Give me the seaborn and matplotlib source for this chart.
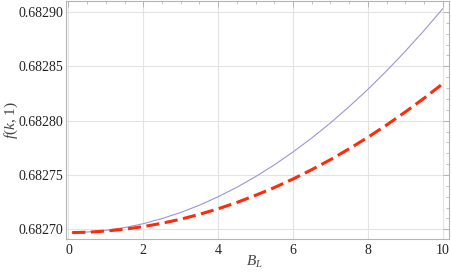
import numpy as np
import pandas as pd
import matplotlib
matplotlib.use("Agg")
import matplotlib.pyplot as plt
from matplotlib.ticker import MultipleLocator, FormatStrFormatter
import seaborn as sns

x_vals = [0.1, 0.5, 1, 1.5, 2, 2.5, 3, 3.5, 4, 4.5, 5, 5.5, 6, 6.5, 7, 7.5, 8, 8.5, 9, 9.5, 10]
blue_vals = [0.6826970, 0.6826975, 0.6826991, 0.6827016, 0.6827052, 0.6827099, 0.6827155,
             0.6827222, 0.6827300, 0.6827387, 0.6827485, 0.6827593, 0.6827712, 0.6827840,
             0.6827979, 0.6828129, 0.6828288, 0.6828458, 0.6828639, 0.6828829, 0.6829030]
red_vals = [0.6826970, 0.6826973, 0.6826984, 0.6827001, 0.6827025, 0.6827056, 0.6827093,
            0.6827138, 0.6827189, 0.6827247, 0.6827313, 0.6827384, 0.6827463, 0.6827549,
            0.6827641, 0.6827741, 0.6827847, 0.6827960, 0.6828080, 0.6828206, 0.6828340]

sns.set_theme(style="white")
plt.rcParams['font.family'] = ['Liberation Serif', 'DejaVu Serif']
plt.rcParams['mathtext.fontset'] = 'custom'
plt.rcParams['mathtext.rm'] = 'Liberation Serif'
plt.rcParams['mathtext.it'] = 'Liberation Serif:italic'

df = pd.DataFrame({"x": x_vals, "blue": blue_vals, "red": red_vals})

fig = plt.figure(figsize=(4.51, 2.73), dpi=100)
ax = fig.add_axes([0.146, 0.125, 0.849, 0.871])

sns.lineplot(data=df, x="x", y="blue", ax=ax, color="#9a96d6", linewidth=0.8)
sns.lineplot(data=df, x="x", y="red", ax=ax, color="#ff2a0a", linewidth=2.2,
             linestyle=(0, (4.3, 1.8)))

ax.set_xlim(-0.07, 10.16)
ax.set_ylim(0.6826912, 0.6829100)

ax.xaxis.set_major_locator(MultipleLocator(2))
ax.xaxis.set_minor_locator(MultipleLocator(0.5))
ax.yaxis.set_major_locator(MultipleLocator(0.00005))
ax.yaxis.set_minor_locator(MultipleLocator(0.00001))
ax.yaxis.set_major_formatter(FormatStrFormatter('%.5f'))

ax.grid(True, which='major', color='#e3e3e3', linewidth=0.8)
for s in ax.spines.values():
    s.set_color('#b4b4b4')
    s.set_linewidth(0.8)

ax.tick_params(which='both', direction='in', top=True, right=True, color='#b4b4b4',
               labelsize=10, labelcolor='#222222')
ax.tick_params(which='major', length=4, width=0.7)
ax.tick_params(axis='y', which='major', pad=2)
ax.tick_params(axis='x', which='major', pad=4)
ax.tick_params(which='minor', length=2, width=0.6)

ax.set_xlabel(r'$B_L$', fontsize=11, color='#444444')
ax.set_ylabel(r'$f(k,\,1)$', fontsize=11, color='#444444')
ax.xaxis.set_label_coords((255 - 66) / (0.849 * 451), -(262 - 239) / (0.871 * 273), transform=ax.transAxes)
ax.yaxis.set_label_coords(-(66 - 11) / (0.849 * 451), 0.5)
ax.xaxis.label.set_va('center')
ax.yaxis.label.set_va('center')

fig.savefig("out.png", dpi=100)
